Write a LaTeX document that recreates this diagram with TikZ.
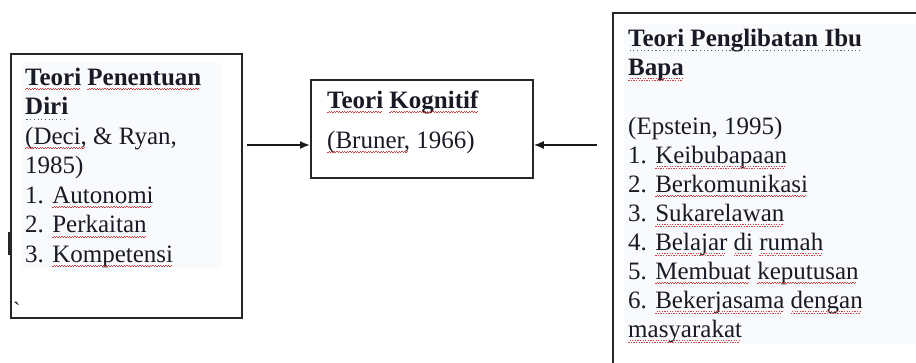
\documentclass[tikz,border=0pt]{standalone}
\usepackage{fontspec}
\setmainfont{Liberation Serif}
\usetikzlibrary{arrows.meta}
\definecolor{txt}{HTML}{1A1A26}
\definecolor{wav}{HTML}{D04040}
\definecolor{gdot}{HTML}{5A6478}
\definecolor{bgtint}{HTML}{F9FAFB}
\newsavebox\sqbox
\newcommand\sqw[1]{\sbox\sqbox{#1}\leavevmode\rlap{\usebox\sqbox}\raisebox{-5pt}[0pt][0pt]{\hbox to \wd\sqbox{\color{wav}\leaders\hbox{\rule{1.3pt}{0.7pt}\raisebox{1.1pt}{\rule{1.3pt}{0.7pt}}}\hfill}}}
\newcommand\sqd[1]{\sbox\sqbox{#1}\leavevmode\rlap{\usebox\sqbox}\raisebox{-5pt}[0pt][0pt]{\hbox to \wd\sqbox{\color{gdot}\leaders\hbox{\kern1.3pt\rule{1.1pt}{1.1pt}\kern1.3pt}\hfill}}}
\newcommand\topstrut{\rule{0pt}{20pt}}
\tikzset{
  frame/.style={draw=black!85, line width=1.8pt, rectangle, inner sep=0pt, anchor=north west},
  body/.style={anchor=north west, inner sep=0pt, align=left, text=txt,
    font=\fontsize{25}{29}\selectfont},
  arr/.style={-{Latex[length=10pt,width=8pt]}, line width=1.6pt, draw=black!90},
  tint/.style={fill=bgtint, draw=none},
}
\begin{document}
\begin{tikzpicture}[x=1pt,y=-1pt]
\useasboundingbox (0,0) rectangle (916,363);
\clip (0,0) rectangle (916,363);
% faint text-area background
\path[tint] (22,63) rectangle (222,268);
\path[tint] (624,24) rectangle (916,344);
% boxes
\node[frame, minimum width=231pt, minimum height=264pt] (lbox) at (10,53) {};
\node[frame, minimum width=222pt, minimum height=98pt] (mbox) at (310,79) {};
\node[frame, minimum width=340pt, minimum height=400pt] (rbox) at (612,12) {};
% texts (first baseline = given y + 20)
\node[body, font=\fontsize{25}{29.5}\selectfont] (ltext) at (25,65) {\topstrut\textbf{\sqw{Teori} \sqw{Penentuan}}\\
\textbf{\sqd{Diri}}\\
\sqw{(Deci,} \& Ryan,\\
1985)\\
1. \sqw{Autonomi}\\
2. \sqw{Perkaitan}\\
3. \sqw{Kompetensi}};
\node[body] (mtext) at (327,88) {\topstrut\textbf{\sqw{Teori} \sqw{Kognitif}}\\[11pt]
\sqw{(Bruner,} 1966)};
\node[body] (rtext) at (628,26) {\topstrut\textbf{\sqd{Teori Penglibatan Ibu}}\\
\textbf{\sqw{Bapa}}\\[30pt]
(Epstein, 1995)\\
1. \sqw{Keibubapaan}\\
2. \sqw{Berkomunikasi}\\
3. \sqw{Sukarelawan}\\
4. \sqw{Belajar} \sqw{di} \sqw{rumah}\\
5. \sqw{Membuat} \sqw{keputusan}\\
6. \sqw{Bekerjasama} \sqw{dengan}\\
\sqw{masyarakat}};
% stray marks in the left box
\node[anchor=base west, inner sep=0pt, text=txt, font=\fontsize{22}{26}\selectfont] (tick) at (13,318) {\textasciigrave};
\draw[line width=1.2pt, draw=black!85] (11,233) -- (9,233) -- (9,254) -- (11,254);
% connectors
\coordinate (ay) at (0,145);
\draw[arr, shorten <=4pt] (lbox.east |- ay) -- (mbox.west |- ay);
\draw[arr, shorten <=15pt] (rbox.west |- ay) -- (mbox.east |- ay);
\end{tikzpicture}
\end{document}
